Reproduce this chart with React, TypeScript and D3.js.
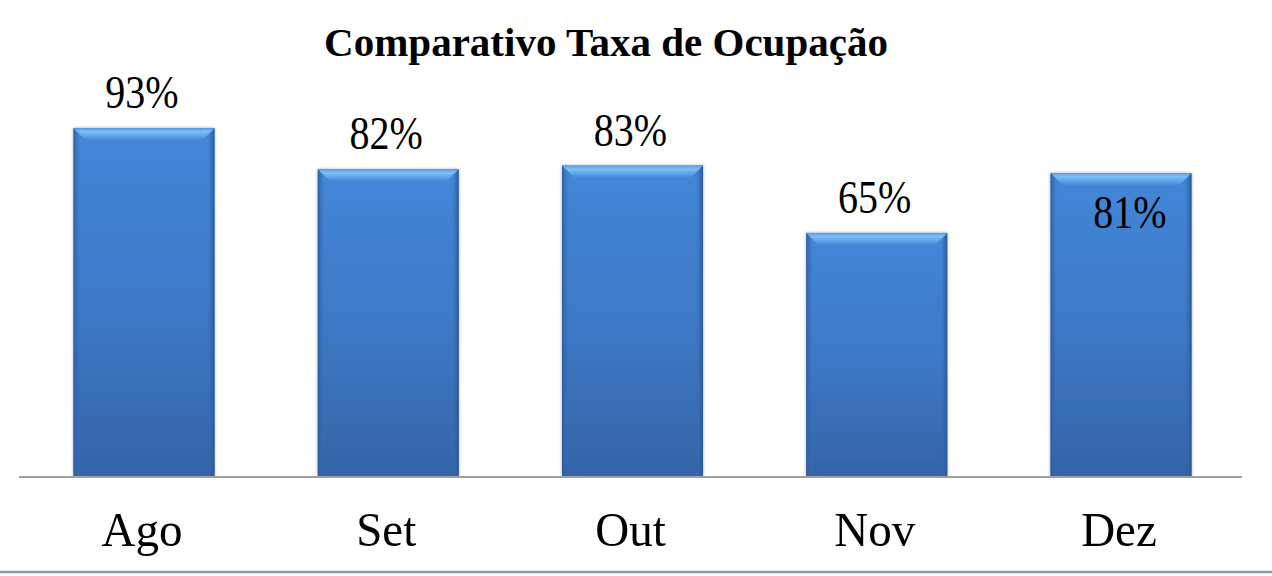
import React from "react";
import * as d3 from "d3";

const months = ["Ago", "Set", "Out", "Nov", "Dez"];
const occupancy = [93, 82, 83, 65, 81];
const valueLabels = ["93%", "82%", "83%", "65%", "81%"];
const labelInside = [false, false, false, false, true];
const title = "Comparativo Taxa de Ocupação";

const W = 1272;
const H = 576;

export default function App() {
  const x = d3
    .scaleBand<string>()
    .domain(months)
    .range([21, 1244])
    .paddingInner(0.423)
    .paddingOuter(0.215);
  const y = d3.scaleLinear().domain([0, 100]).range([476, 102]);
  const bw = x.bandwidth();
  const b = 12;
  const side = 7;
  const serif = "'Liberation Serif', 'Times New Roman', serif";

  return (
    <svg
      width={W}
      height={H}
      style={{ position: "absolute", left: 0, top: 0, background: "#fff" }}
      fontFamily={serif}
    >
      <defs>
        <linearGradient id="body" x1="0" y1="0" x2="0" y2="1">
          <stop offset="0" stopColor="#4387d9" />
          <stop offset="0.5" stopColor="#3d79c6" />
          <stop offset="1" stopColor="#3564a7" />
        </linearGradient>
        <linearGradient id="topBevel" x1="0" y1="0" x2="0" y2="1">
          <stop offset="0" stopColor="#5a9ce4" />
          <stop offset="0.3" stopColor="#7cc0f8" />
          <stop offset="1" stopColor="#4687d8" />
        </linearGradient>
        <linearGradient id="leftSide" x1="0" y1="0" x2="1" y2="0">
          <stop offset="0" stopColor="#2c5a9c" stopOpacity="0.9" />
          <stop offset="1" stopColor="#3a74c0" stopOpacity="0" />
        </linearGradient>
        <linearGradient id="rightSide" x1="1" y1="0" x2="0" y2="0">
          <stop offset="0" stopColor="#285493" stopOpacity="0.95" />
          <stop offset="1" stopColor="#3a74c0" stopOpacity="0" />
        </linearGradient>
        <filter id="shadow" x="-10%" y="-10%" width="120%" height="120%">
          <feDropShadow dx="0" dy="0" stdDeviation="1.8" floodColor="#000" floodOpacity="0.4" />
        </filter>
      </defs>

      <text
        x={606}
        y={56}
        textAnchor="middle"
        fontWeight="bold"
        fontSize={41}
        fill="#000"
      >
        {title}
      </text>

      {months.map((m, i) => {
        const x0 = x(m)!;
        const x1 = x0 + bw;
        const top = y(occupancy[i]);
        const bottom = y(0);
        const cx = x0 + bw / 2;
        const lx = labelInside[i] ? cx + 9 : cx - 2;
        const ly = labelInside[i] ? top + 55 : top - 20;
        return (
          <g key={m}>
            <rect
              x={x0}
              y={top}
              width={bw}
              height={bottom - top}
              fill="url(#body)"
              filter="url(#shadow)"
            />
            <rect x={x0} y={top} width={side} height={bottom - top} fill="url(#leftSide)" />
            <rect x={x1 - side} y={top} width={side} height={bottom - top} fill="url(#rightSide)" />
            <polygon
              points={`${x0},${top} ${x1},${top} ${x1 - b},${top + b} ${x0 + b},${top + b}`}
              fill="url(#topBevel)"
            />
            <text
              transform={`translate(${lx},${ly}) scale(1,1.15)`}
              textAnchor="middle"
              fontSize={40}
              fill="#000"
            >
              {valueLabels[i]}
            </text>
            <text
              transform={`translate(${cx - 2},${546}) scale(1,1.05)`}
              textAnchor="middle"
              fontSize={47}
              fill="#000"
            >
              {m}
            </text>
          </g>
        );
      })}

      <line x1={19} x2={1242} y1={y(0) + 1} y2={y(0) + 1} stroke="#a0a0a0" strokeWidth={2} />
      <line x1={0} x2={W} y1={572} y2={572} stroke="#8c9bb0" strokeWidth={2.5} />
    </svg>
  );
}
